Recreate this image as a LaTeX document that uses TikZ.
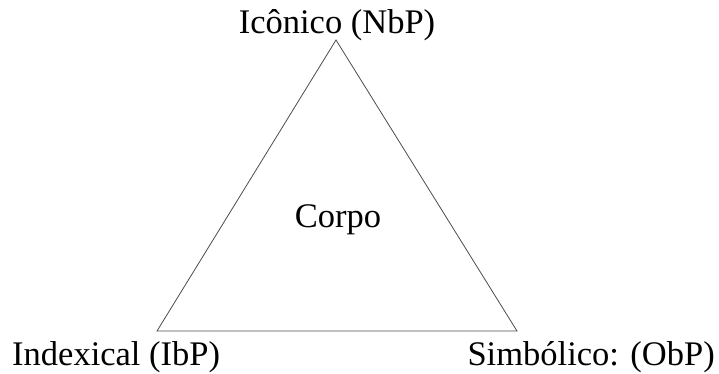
\documentclass[tikz,border=0pt]{standalone}
\usepackage{fontspec}
\setmainfont{Liberation Serif}
\begin{document}
\begin{tikzpicture}[x=1pt,y=-1pt,
  lbl/.style={inner sep=0pt,font=\fontsize{34.5}{40}\selectfont},
  edge/.style={draw=black!70,line width=0.8pt}]
\useasboundingbox (0,0) rectangle (719,373);
\coordinate (top) at (336,40);
\coordinate (bl) at (157,331);
\coordinate (br) at (517,331);
\draw[edge] (top) -- (bl) -- (br) -- cycle;
\node[lbl,anchor=base] (ico) at (337,33) {Icônico (NbP)};
\node[lbl,anchor=base] (corpo) at (338,227) {Corpo};
\node[lbl,anchor=base west] (idx) at (12,365) {Indexical (IbP)};
\node[lbl,anchor=base east] (sim) at (715,365) {Simbólico: (ObP)};
\end{tikzpicture}
\end{document}
